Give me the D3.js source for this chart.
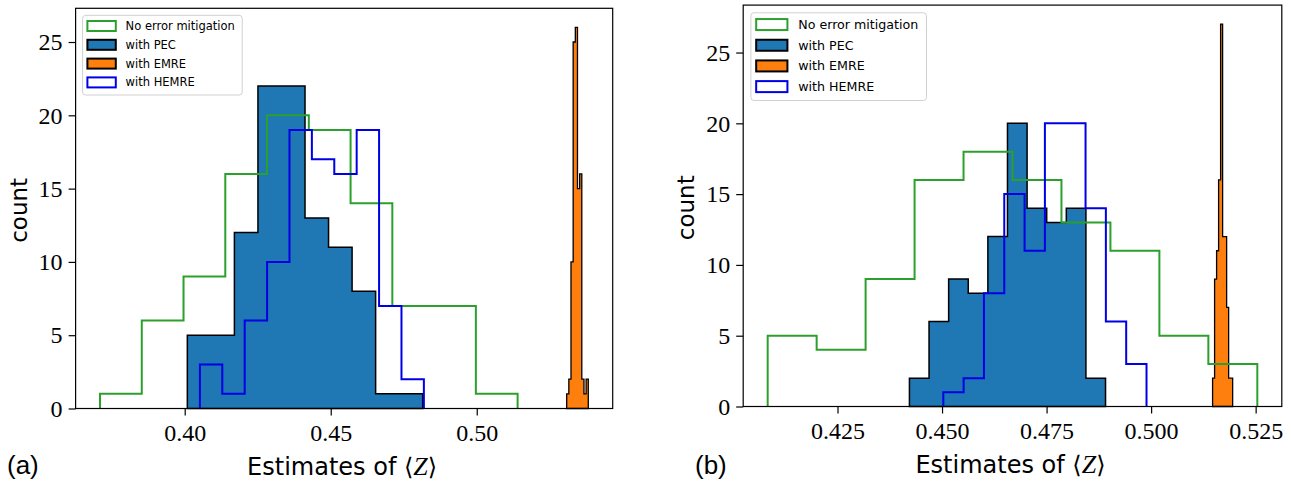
<!DOCTYPE html>
<html>
<head>
<meta charset="utf-8">
<script src="https://cdn.jsdelivr.net/npm/d3@7"></script>
<style>
body { margin: 0; background: #fff; }
</style>
</head>
<body>
<div id="chart"></div>
<script>
var seriesNames = ['No error mitigation', 'with PEC', 'with EMRE', 'with HEMRE'];

// panel (a): histogram ranges [min, max] and counts of 10 bins
var aNoMitRange = [0.3710, 0.5140];
var aNoMitCounts = [1, 6, 9, 16, 20, 19, 14, 7, 7, 1];
var aPecRange = [0.4009, 0.4815];
var aPecCounts = [5, 5, 12, 22, 22, 13, 11, 8, 1, 1];
var aEmreRange = [0.5308, 0.5382];
var aEmreCounts = [1, 2, 10, 25, 26, 15, 16, 2, 1, 2];
var aHemreRange = [0.4052, 0.4819];
var aHemreCounts = [3, 1, 6, 10, 19, 17, 16, 19, 7, 2];
var aTicks = [0.40, 0.45, 0.50];
var aTickLabels = ['0.40', '0.45', '0.50'];

// panel (b)
var bNoMitRange = [0.4083, 0.5254];
var bNoMitCounts = [5, 4, 9, 16, 18, 16, 13, 11, 5, 3];
var bPecRange = [0.4422, 0.4891];
var bPecCounts = [2, 6, 9, 8, 12, 20, 14, 13, 14, 2];
var bEmreRange = [0.5147, 0.5195];
var bEmreCounts = [2, 9, 11, 16, 27, 12, 12, 7, 2, 2];
var bHemreRange = [0.4503, 0.4989];
var bHemreCounts = [1, 2, 8, 15, 11, 20, 20, 14, 6, 3];
var bTicks = [0.425, 0.450, 0.475, 0.500, 0.525];
var bTickLabels = ['0.425', '0.450', '0.475', '0.500', '0.525'];

var countTicks = [0, 5, 10, 15, 20, 25];

var green = '#2ca02c', pecBlue = '#1f77b4', orange = '#ff7f0e', hemreBlue = '#0000e6';
var serif = "'Liberation Serif', 'DejaVu Serif', serif";
var sans = "'DejaVu Sans', sans-serif";

var svg = d3.select('#chart')
	.append('svg')
	.attr('width', 1291)
	.attr('height', 482);

drawPanel({
	left: 75.6, top: 8.3, right: 612.7, bottom: 408.5, k: 1,
	letter: '(a)', letterX: 7, ylabelX: 19,
	ticks: aTicks, tickLabels: aTickLabels,
	noMit: [aNoMitRange, aNoMitCounts], pec: [aPecRange, aPecCounts],
	emre: [aEmreRange, aEmreCounts], hemre: [aHemreRange, aHemreCounts]
});

drawPanel({
	left: 743.2, top: 5.1, right: 1281.8, bottom: 406.5, k: 1.1,
	letter: '(b)', letterX: 695, ylabelX: 686,
	ticks: bTicks, tickLabels: bTickLabels,
	noMit: [bNoMitRange, bNoMitCounts], pec: [bPecRange, bPecCounts],
	emre: [bEmreRange, bEmreCounts], hemre: [bHemreRange, bHemreCounts]
});


function binEdges(range, n) {
	return d3.range(n + 1).map(function (i) {
		return range[0] + (range[1] - range[0]) * i / n;
	});
}

// outline of a histogram, starting and ending on the baseline
function stepPoints(range, counts) {
	var edges = binEdges(range, counts.length);
	var pts = [[edges[0], 0]];
	counts.forEach(function (c, i) {
		pts.push([edges[i], c]);
		pts.push([edges[i + 1], c]);
	});
	pts.push([edges[edges.length - 1], 0]);
	return pts;
}

function drawPanel(p) {
	var all = [p.noMit, p.pec, p.emre, p.hemre];
	var lo = d3.min(all, function (s) { return s[0][0]; });
	var hi = d3.max(all, function (s) { return s[0][1]; });
	var pad = (hi - lo) * 0.05;
	var ymax = d3.max(all, function (s) { return d3.max(s[1]); }) * 1.05;

	var x = d3.scaleLinear().domain([lo - pad, hi + pad]).range([p.left, p.right]);
	var y = d3.scaleLinear().domain([0, ymax]).range([p.bottom, p.top]);

	var line = d3.line()
		.x(function (d) { return x(d[0]); })
		.y(function (d) { return y(d[1]); });

	var g = svg.append('g');

	// filled histograms first, step outlines on top
	g.append('path')
		.attr('d', line(stepPoints(p.pec[0], p.pec[1])) + 'Z')
		.attr('fill', pecBlue)
		.attr('stroke', '#000')
		.attr('stroke-width', 1.5)
		.attr('stroke-linejoin', 'miter');

	g.append('path')
		.attr('d', line(stepPoints(p.emre[0], p.emre[1])) + 'Z')
		.attr('fill', orange)
		.attr('stroke', '#000')
		.attr('stroke-width', 1.3)
		.attr('stroke-linejoin', 'miter');

	g.append('path')
		.attr('d', line(stepPoints(p.noMit[0], p.noMit[1])))
		.attr('fill', 'none')
		.attr('stroke', green)
		.attr('stroke-width', 2);

	g.append('path')
		.attr('d', line(stepPoints(p.hemre[0], p.hemre[1])))
		.attr('fill', 'none')
		.attr('stroke', hemreBlue)
		.attr('stroke-width', 2);

	// axes
	var xAxis = svg.append('g')
		.attr('transform', 'translate(0,' + p.bottom + ')')
		.call(d3.axisBottom(x)
			.tickValues(p.ticks)
			.tickFormat(function (d, i) { return p.tickLabels[i]; })
			.tickSize(7)
			.tickPadding(8));

	var yAxis = svg.append('g')
		.attr('transform', 'translate(' + p.left + ',0)')
		.call(d3.axisLeft(y)
			.tickValues(countTicks)
			.tickSize(7)
			.tickPadding(6));

	[xAxis, yAxis].forEach(function (a) {
		a.select('.domain').remove();
		a.selectAll('line').attr('stroke', '#000').attr('stroke-width', 1.2);
		a.selectAll('text')
			.attr('fill', '#000')
			.style('font-family', serif)
			.style('font-size', '24px');
	});

	svg.append('rect')
		.attr('x', p.left)
		.attr('y', p.top)
		.attr('width', p.right - p.left)
		.attr('height', p.bottom - p.top)
		.attr('fill', 'none')
		.attr('stroke', '#000')
		.attr('stroke-width', 1.2);

	// axis labels
	var cx = (p.left + p.right) / 2;
	var xl = svg.append('text')
		.attr('x', cx - 2)
		.attr('y', p.bottom + 66)
		.attr('text-anchor', 'middle')
		.style('font-family', sans)
		.style('font-size', '24px');
	xl.append('tspan').text('Estimates of ');
	xl.append('tspan').style('font-family', "'DejaVu Sans'").text('\u27e8');
	xl.append('tspan').style('font-family', serif).style('font-style', 'italic').style('font-size', '26px').text('Z');
	xl.append('tspan').style('font-family', "'DejaVu Sans'").text('\u27e9');

	svg.append('text')
		.attr('transform', 'translate(' + p.ylabelX + ',' + ((p.top + p.bottom) / 2 + 2) + ') rotate(-90)')
		.attr('text-anchor', 'middle')
		.attr('dominant-baseline', 'central')
		.style('font-family', sans)
		.style('font-size', '23px')
		.text('count');

	svg.append('text')
		.attr('x', p.letterX)
		.attr('y', 474)
		.style('font-family', "'Liberation Sans', Arial, sans-serif")
		.style('font-size', '26px')
		.text(p.letter);

	drawLegend(p);
}

function drawLegend(p) {
	var k = p.k;
	var lg = svg.append('g')
		.attr('transform', 'translate(' + (p.left + 7 * k) + ',' + (p.top + 7 * k) + ')');

	lg.append('rect')
		.attr('width', 159.6 * k)
		.attr('height', 79.7 * k)
		.attr('rx', 3)
		.attr('fill', '#fff')
		.attr('fill-opacity', 0.8)
		.attr('stroke', '#d0d0d0')
		.attr('stroke-width', 1);

	var patchStyle = [
		{ fill: 'none', stroke: green },
		{ fill: pecBlue, stroke: '#000' },
		{ fill: orange, stroke: '#000' },
		{ fill: 'none', stroke: hemreBlue }
	];

	seriesNames.forEach(function (name, i) {
		var cy = (10.7 + 18.8 * i) * k;
		lg.append('rect')
			.attr('x', 4.8 * k)
			.attr('y', cy - 5 * k)
			.attr('width', 28.4 * k)
			.attr('height', 10 * k)
			.attr('fill', patchStyle[i].fill)
			.attr('stroke', patchStyle[i].stroke)
			.attr('stroke-width', 2);
		lg.append('text')
			.attr('x', 43 * k)
			.attr('y', cy)
			.attr('dominant-baseline', 'central')
			.style('font-family', sans)
			.style('font-size', (11.5 * k) + 'px')
			.text(name);
	});
}
</script>
</body>
</html>
